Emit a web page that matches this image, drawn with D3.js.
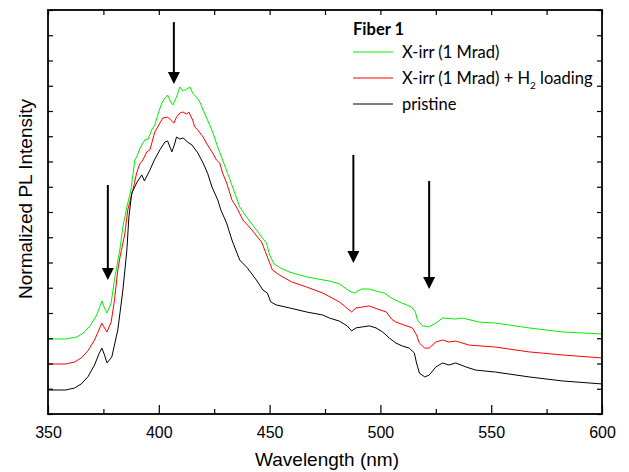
<!DOCTYPE html>
<html>
<head>
<meta charset="utf-8">
<script src="https://cdn.jsdelivr.net/npm/d3@7"></script>
<style>
  body { margin: 0; background: #fff; }
  svg { display: block; }
</style>
</head>
<body>
<svg id="chart" width="629" height="472"></svg>
<script>
// wavelength (nm), normalized PL intensity (arbitrary, offset curves)
const xTicks = [350, 400, 450, 500, 550, 600];
const legendTitle = 'Fiber 1';

const xirr = [
  [350, 2.97], [358, 2.97], [363, 3.05], [366, 3.21], [369, 3.49], [372, 3.92],
  [374.3, 4.48], [375.5, 4.20], [376.6, 4.00], [378.5, 4.40], [380, 5.31], [382.4, 6.50],
  [383.8, 7.41], [385.6, 8.20], [387.4, 8.87], [389.2, 10.06], [390, 10.18], [391.4, 10.50],
  [392.8, 10.73], [394, 10.89], [395, 10.85], [396.8, 11.25], [398.2, 11.45], [399.5, 11.84],
  [401.4, 12.32], [402.7, 12.51], [404, 12.63], [405.4, 12.36], [406.3, 12.24], [408, 12.55],
  [409.5, 12.95], [410.8, 12.79], [412.6, 12.87], [414, 12.95], [415.3, 12.71], [417, 12.55],
  [418.5, 12.36], [420, 12.04], [422, 11.64], [424.3, 11.17], [426.6, 10.57], [428.8, 10.06],
  [431, 9.54], [433.3, 8.99], [436.5, 8.20], [439.6, 7.80], [443, 7.41], [446.4, 7.01],
  [448.6, 6.77], [450, 6.30], [452, 5.94], [455, 5.78], [459, 5.62], [466.7, 5.43],
  [474, 5.31], [477, 5.27], [481.5, 5.15], [486, 4.87], [488.3, 4.79], [491.4, 4.95],
  [495, 4.95], [498, 4.87], [501.8, 4.79], [505, 4.59], [509.5, 4.40], [514, 4.24],
  [515.8, 4.04], [516.7, 3.72], [519, 3.49], [522, 3.45], [525, 3.60], [528, 3.80],
  [534, 3.76], [537, 3.80], [544.6, 3.64], [552, 3.60], [567, 3.41], [582, 3.25], [600, 3.17]
];

const xirrH2 = [
  [350, 1.98], [358, 1.98], [362, 2.06], [365, 2.22], [368, 2.50], [371, 2.93],
  [373, 3.33], [374.3, 3.60], [375.5, 3.41], [376.6, 3.25], [378.5, 3.64], [380, 4.51],
  [381.5, 5.70], [382.5, 6.22], [384.7, 7.15], [386, 8.08], [388.3, 8.87], [390, 9.54],
  [391.4, 9.90], [392.8, 10.06], [394.6, 10.38], [396, 10.46], [398.2, 11.17], [399.5, 11.37],
  [401.8, 11.72], [404, 11.76], [405.9, 11.60], [406.8, 11.52], [408, 11.76], [409.5, 11.92],
  [410.8, 11.96], [412.6, 11.88], [413.5, 11.96], [415.3, 11.64], [416.2, 11.37], [417.6, 11.25],
  [420, 10.97], [422, 10.65], [424.3, 10.34], [426, 10.06], [427.5, 9.94], [428.8, 9.54],
  [430.6, 9.15], [433, 8.48], [435, 8.20], [438, 7.68], [442, 7.29], [446.4, 6.81],
  [449, 6.22], [451.3, 5.70], [454.5, 5.50], [460, 5.23], [466.7, 5.03], [474, 4.79],
  [481.5, 4.44], [487, 4.04], [489, 4.20], [492, 4.24], [495, 4.28], [498.6, 4.16],
  [502.7, 4.04], [505, 3.76], [507, 3.64], [514.4, 3.41], [516.3, 3.13], [517.6, 2.81],
  [520, 2.61], [522, 2.61], [525, 2.85], [528, 2.93], [531, 2.85], [534, 2.89],
  [540, 2.73], [552, 2.65], [567, 2.46], [582, 2.34], [600, 2.22]
];

const pristine = [
  [350, 0.95], [358, 0.95], [362, 1.03], [365, 1.19], [368, 1.47], [371, 1.94],
  [373, 2.38], [374.3, 2.61], [375.5, 2.34], [376.6, 2.02], [378.8, 2.26], [381.5, 3.33],
  [383.8, 4.91], [385.6, 6.50], [386.5, 7.80], [387.8, 8.75], [390, 9.15], [392.3, 9.47],
  [393.5, 9.23], [396, 9.66], [398, 10.06], [400.5, 10.46], [402.7, 10.77], [404, 10.81],
  [405.9, 10.38], [407, 10.65], [408, 10.97], [409.5, 10.89], [411, 10.93], [413, 10.77],
  [415, 10.65], [417.6, 10.34], [420, 9.94], [422, 9.54], [424, 8.99], [426.6, 8.48],
  [428, 8.08], [430.6, 7.56], [433, 6.89], [436.5, 6.10], [440, 5.78], [444, 5.31],
  [447, 4.91], [449, 4.79], [450.5, 4.44], [453, 4.32], [459, 4.20], [466.7, 4.04],
  [474, 3.92], [477, 3.80], [481.5, 3.68], [485, 3.49], [487, 3.29], [489, 3.41],
  [492, 3.45], [495, 3.49], [498, 3.41], [501, 3.25], [504, 3.01], [507, 2.81],
  [510, 2.69], [513, 2.61], [515.3, 2.42], [516.3, 2.02], [517.6, 1.62], [520, 1.47],
  [522, 1.54], [525, 1.86], [528, 2.02], [531, 1.94], [534, 2.02], [538.7, 1.86],
  [543, 1.74], [552, 1.66], [567, 1.47], [582, 1.31], [600, 1.19]
];

// arrows: wavelength, start intensity, tip intensity
const arrows = [
  [377, 9.07, 5.31],
  [406.8, 15.52, 13.07],
  [487.8, 10.26, 5.98],
  [522, 9.23, 4.95]
];

const series = [
  { name: 'X-irr (1 Mrad)', data: xirr, color: '#00f000' },
  { name: 'X-irr (1 Mrad) + H2 loading', data: xirrH2, color: '#ff0000' },
  { name: 'pristine', data: pristine, color: '#000000' }
];

const svg = d3.select('#chart');
const margin = { left: 48, right: 27, top: 10, bottom: 58 };
const W = 629, H = 472;

const x = d3.scaleLinear().domain([350, 600]).range([margin.left, W - margin.right]);
const y = d3.scaleLinear().domain([0, 16]).range([H - margin.bottom, margin.top]);

const minorX = d3.range(350, 601, 25);
const yTicks = d3.range(0, 17, 1);

// lines
const line = d3.line().x(d => x(d[0])).y(d => y(d[1]));
svg.append('g')
  .selectAll('path')
  .data(series)
  .join('path')
  .attr('fill', 'none')
  .attr('stroke', d => d.color)
  .attr('stroke-width', 1)
  .attr('d', d => line(d.data));

// axes
const axisFont = '"Liberation Sans", Arial, sans-serif';
const gx = svg.append('g')
  .attr('transform', `translate(0,${y(0)})`)
  .call(d3.axisBottom(x).tickValues(xTicks).tickSizeInner(-9).tickSizeOuter(0).tickPadding(13));
gx.selectAll('text').attr('font-family', axisFont).attr('font-size', 16).attr('fill', '#000');

svg.append('g')
  .attr('transform', `translate(0,${y(0)})`)
  .call(d3.axisBottom(x).tickValues(minorX.filter(v => v % 50)).tickSizeInner(-5).tickSizeOuter(0).tickFormat(''));

svg.append('g')
  .attr('transform', `translate(0,${y(16)})`)
  .call(d3.axisTop(x).tickValues(minorX).tickSizeInner(-5).tickSizeOuter(0).tickFormat(''));

svg.append('g')
  .attr('transform', `translate(${x(350)},0)`)
  .call(d3.axisLeft(y).tickValues(yTicks).tickSizeInner(-5).tickSizeOuter(0).tickFormat(''));

svg.append('g')
  .attr('transform', `translate(${x(600)},0)`)
  .call(d3.axisRight(y).tickValues(yTicks).tickSizeInner(-5).tickSizeOuter(0).tickFormat(''));

svg.selectAll('.domain').remove();
svg.selectAll('.tick line').attr('stroke', '#000').attr('stroke-width', 1.2);

// frame
svg.append('rect')
  .attr('x', x(350)).attr('y', y(16))
  .attr('width', x(600) - x(350)).attr('height', y(0) - y(16))
  .attr('fill', 'none').attr('stroke', '#000').attr('stroke-width', 1.8);

// axis titles
svg.append('text')
  .attr('x', (x(350) + x(600)) / 2 + 2).attr('y', 466)
  .attr('text-anchor', 'middle')
  .attr('font-family', axisFont).attr('font-size', 19)
  .text('Wavelength (nm)');

svg.append('text')
  .attr('transform', `translate(32,${(y(0) + y(16)) / 2 - 13}) rotate(-90)`)
  .attr('text-anchor', 'middle')
  .attr('font-family', axisFont).attr('font-size', 19)
  .text('Normalized PL Intensity');

// arrows
const head = 12, halfW = 6;
const ga = svg.append('g');
arrows.forEach(function(a) {
  let ax = x(a[0]), y0 = y(a[1]), y1 = y(a[2]);
  ga.append('line')
    .attr('x1', ax).attr('x2', ax).attr('y1', y0).attr('y2', y1 - head + 1)
    .attr('stroke', '#000').attr('stroke-width', 2);
  ga.append('path')
    .attr('d', `M${ax - halfW},${y1 - head}L${ax + halfW},${y1 - head}L${ax},${y1}Z`)
    .attr('fill', '#000');
});

// legend
const legFont = 'Lato, "Open Sans", sans-serif';
const lg = svg.append('g').attr('transform', 'translate(353,0)');
lg.append('text')
  .attr('x', 0).attr('y', 35)
  .attr('font-family', legFont).attr('font-size', 16.5).attr('font-weight', 'bold')
  .text(legendTitle);
const rowY = [52, 78, 104];
series.forEach(function(s, i) {
  lg.append('line')
    .attr('x1', 0).attr('x2', 40).attr('y1', rowY[i]).attr('y2', rowY[i])
    .attr('stroke', s.color).attr('stroke-width', 1);
  let t = lg.append('text')
    .attr('x', 49).attr('y', rowY[i] + 6)
    .attr('font-family', legFont).attr('font-size', 16.5);
  if (s.name.indexOf('H2') >= 0) {
    let parts = s.name.split('H2');
    t.append('tspan').text(parts[0] + 'H');
    t.append('tspan').attr('font-size', 10).attr('dy', 5).text('2');
    t.append('tspan').attr('dy', -5).text(' ' + parts[1].trim());
  } else {
    t.text(s.name);
  }
});
</script>
</body>
</html>
